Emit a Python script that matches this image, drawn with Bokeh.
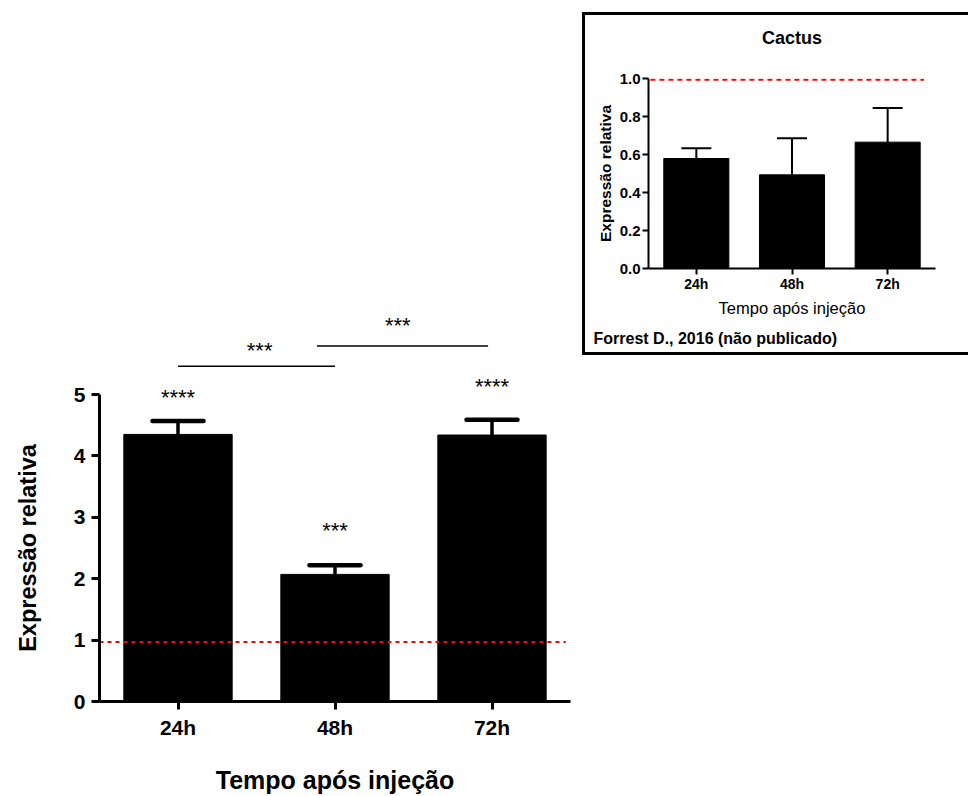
from bokeh.plotting import figure
from bokeh.models import (Range1d, FactorRange, FixedTicker, Whisker, TeeHead,
                          ColumnDataSource, Title, PrintfTickFormatter)
from bokeh.embed import file_html
from bokeh.resources import INLINE
from bokeh.core.properties import value

# ---------------- data ----------------
times = ["24h", "48h", "72h"]

main_mean = [4.35, 2.07, 4.34]
main_err = [0.22, 0.15, 0.25]
main_ref = 0.97
main_stars = ["****", "***", "****"]
main_yticks = [0, 1, 2, 3, 4, 5]

cmp_pairs = [("24h", "48h"), ("48h", "72h")]
cmp_stars = ["***", "***"]

inset_title = "Cactus"
inset_mean = [0.579, 0.493, 0.665]
inset_err = [0.054, 0.193, 0.180]
inset_ref = 0.993
inset_yticks = [0.0, 0.2, 0.4, 0.6, 0.8, 1.0]

FONT = "Liberation Sans"
PX_PER_UNIT = 61.6          # main chart vertical scale (pixels per unit)

# ---------------- main chart (frame = axis extent 0..5) ----------------
main_h = round((main_yticks[-1] - main_yticks[0]) * PX_PER_UNIT)
p = figure(width=582, height=796, x_range=FactorRange(factors=times),
           y_range=Range1d(main_yticks[0], main_yticks[-1]),
           output_backend="svg", toolbar_location=None,
           min_border_left=99, min_border_right=12, min_border_top=796 - 94 - main_h,
           min_border_bottom=94)
p.outline_line_color = None
p.xgrid.visible = False
p.ygrid.visible = False
p.background_fill_color = "white"
p.border_fill_color = "white"

src = ColumnDataSource(dict(x=times, top=main_mean,
                            upper=[m + e for m, e in zip(main_mean, main_err)]))
p.vbar(x="x", top="top", width=0.69, source=src, fill_color="black",
       line_color="black")
p.add_layout(Whisker(source=src, base="x", lower="top", upper="upper",
                     line_width=3.5, line_color="black",
                     upper_head=TeeHead(size=51, line_width=4.5, line_color="black",
                                        line_cap="round"),
                     lower_head=None))

p.segment(x0=[(times[0], -0.5)], x1=[(times[-1], 0.47)], y0=[main_ref], y1=[main_ref],
          line_color="#ff0000", line_width=2, line_dash="4 4")

for ax in (p.xaxis[0], p.yaxis[0]):
    ax.axis_line_width = 3
    ax.axis_line_color = "black"
    ax.major_tick_line_width = 3
    ax.major_tick_line_color = "black"
    ax.major_tick_in = 0
    ax.major_tick_out = 8
    ax.minor_tick_line_color = None
    ax.major_label_text_font = FONT
    ax.major_label_text_font_size = "21px"
    ax.major_label_text_font_style = "bold"
    ax.major_label_text_color = "black"
    ax.axis_label_text_font = FONT
    ax.axis_label_text_font_style = "bold"
    ax.axis_label_text_color = "black"

p.xaxis.axis_label = "Tempo após injeção"
p.xaxis.axis_label_text_font_size = "25px"
p.xaxis.major_label_standoff = 6
p.xaxis.axis_label_standoff = 24
p.yaxis.ticker = FixedTicker(ticks=main_yticks)
p.yaxis.major_label_standoff = 6
p.yaxis.axis_label = "Expressão relativa"
p.yaxis.axis_label_text_font_size = "23.5px"
p.yaxis.axis_label_standoff = 30

# ---------------- overlay for the significance marks above the bars ----------------
ov_lo = 4.5
ov_h = 123
ov_top_px = 796 - 94 - round((ov_lo - main_yticks[0]) * PX_PER_UNIT) - ov_h
ov = figure(width=582, height=ov_h, x_range=p.x_range,
            y_range=Range1d(ov_lo, ov_lo + ov_h / PX_PER_UNIT),
            x_axis_location=None, y_axis_location=None,
            output_backend="svg", toolbar_location=None,
            min_border_left=99, min_border_right=12, min_border_top=0,
            min_border_bottom=0,
            styles={"position": "absolute", "left": "0px", "top": f"{ov_top_px}px"})
ov.outline_line_color = None
ov.background_fill_color = None
ov.border_fill_color = None
ov.grid.visible = False

star_y = [4.95, 2.79, 5.13]
# bar stars that fall inside the main frame go there, the others in the overlay
for fig, keep in ((p, lambda y: y < main_yticks[-1] - 0.3), (ov, lambda y: y >= main_yticks[-1] - 0.3)):
    xs = [t for t, y in zip(times, star_y) if keep(y)]
    ys = [y for y in star_y if keep(y)]
    ts = [s for s, y in zip(main_stars, star_y) if keep(y)]
    fig.text(x=xs, y=ys, text=ts, text_font=value(FONT),
             text_font_size=value("22px"), text_align="center",
             text_baseline="alphabetic", text_color="black")

br_x0 = [(cmp_pairs[0][0], 0.0), (cmp_pairs[1][0], -0.115)]
br_x1 = [(cmp_pairs[0][1], 0.0), (cmp_pairs[1][1], -0.025)]
br_y = [5.46, 5.79]
ov.segment(x0=br_x0, x1=br_x1, y0=br_y, y1=br_y, line_color="black", line_width=1.5)
br_tx = [(cmp_pairs[0][0], 0.52), (cmp_pairs[1][0], 0.40)]
br_ty = [5.72, 6.12]
ov.text(x=br_tx, y=br_ty, text=cmp_stars, text_font=value(FONT),
        text_font_size=value("22px"), text_align="center",
        text_baseline="alphabetic", text_color="black")

# ---------------- inset chart ----------------
q = figure(width=386, height=343, x_range=FactorRange(factors=times),
           y_range=Range1d(inset_yticks[0], inset_yticks[-1]),
           output_backend="svg", toolbar_location=None,
           min_border_left=66, min_border_right=33, min_border_top=66,
           min_border_bottom=87,
           styles={"position": "absolute", "left": "582px", "top": "12px",
                   "box-shadow": "inset 3px 3px 0 0 #000, inset 0 -3px 0 0 #000"})
q.outline_line_color = None
q.xgrid.visible = False
q.ygrid.visible = False
q.background_fill_color = "white"
q.border_fill_color = None

isrc = ColumnDataSource(dict(x=times, top=inset_mean,
                             upper=[m + e for m, e in zip(inset_mean, inset_err)]))
q.vbar(x="x", top="top", width=0.68, source=isrc, fill_color="black",
       line_color="black")
q.add_layout(Whisker(source=isrc, base="x", lower="top", upper="upper",
                     line_width=2, line_color="black",
                     upper_head=TeeHead(size=30, line_width=2, line_color="black"),
                     lower_head=None))
q.segment(x0=[(times[0], -0.48)], x1=[(times[-1], 0.38)], y0=[inset_ref],
          y1=[inset_ref], line_color="#ff0000", line_width=2, line_dash="5 4")

for ax in (q.xaxis[0], q.yaxis[0]):
    ax.axis_line_width = 2
    ax.axis_line_color = "black"
    ax.major_tick_line_width = 2
    ax.major_tick_line_color = "black"
    ax.major_tick_in = 0
    ax.major_tick_out = 6
    ax.minor_tick_line_color = None
    ax.major_label_text_font = FONT
    ax.major_label_text_font_style = "bold"
    ax.major_label_text_color = "black"
    ax.axis_label_text_font = FONT
    ax.axis_label_text_color = "black"

q.xaxis.major_label_text_font_size = "14px"
q.xaxis.major_label_standoff = 1
q.xaxis.axis_label = "Tempo após injeção"
q.xaxis.axis_label_text_font_size = "16.5px"
q.xaxis.axis_label_text_font_style = "normal"
q.xaxis.axis_label_standoff = 4

q.yaxis.ticker = FixedTicker(ticks=inset_yticks)
q.yaxis.formatter = PrintfTickFormatter(format="%.1f")
q.yaxis.major_label_text_font_size = "15px"
q.yaxis.major_label_standoff = 2
q.yaxis.axis_label = "Expressão relativa"
q.yaxis.axis_label_text_font_size = "15.5px"
q.yaxis.axis_label_text_font_style = "bold"
q.yaxis.axis_label_standoff = 3

credit = Title(text="Forrest D., 2016 (não publicado)", align="left", offset=-55,
               text_font=FONT, text_font_size="16px", text_font_style="bold",
               text_color="black", standoff=16)
q.add_layout(credit, "below")

# ---------------- inset title strip (shares the inset's x scale) ----------------
qt = figure(width=386, height=50, x_range=q.x_range, y_range=Range1d(0, 1),
            x_axis_location=None, y_axis_location=None,
            output_backend="svg", toolbar_location=None,
            min_border_left=66, min_border_right=33, min_border_top=0,
            min_border_bottom=0,
            styles={"position": "absolute", "left": "582px", "top": "12px"})
qt.outline_line_color = None
qt.background_fill_color = None
qt.border_fill_color = None
qt.grid.visible = False
qt.text(x=[times[1]], y=[0.5], text=[inset_title], text_font=value(FONT),
        text_font_size=value("18px"), text_font_style="bold", text_align="center",
        text_baseline="middle", text_color="black")

open("out.html", "w").write(file_html([p, q, ov, qt], INLINE))
